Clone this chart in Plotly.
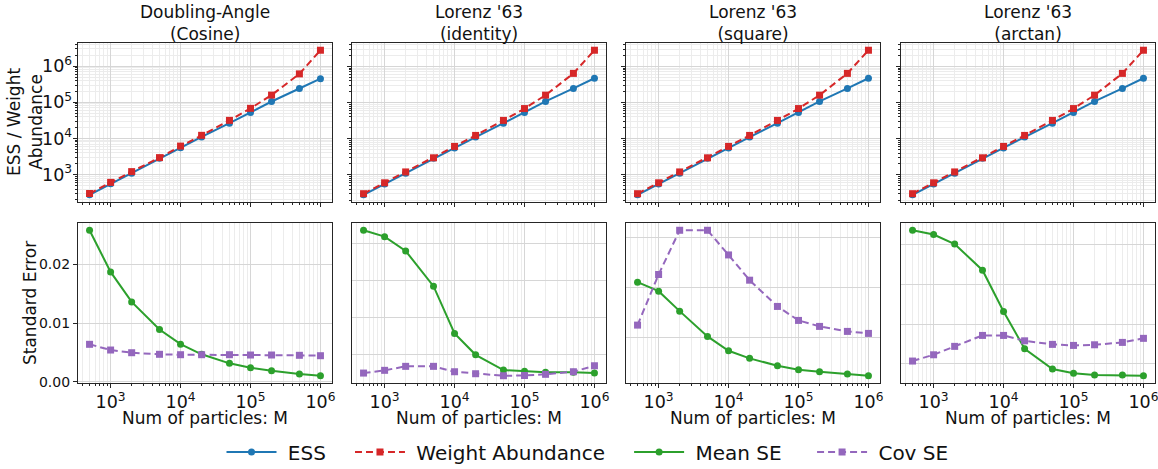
import numpy as np
import plotly.graph_objects as go

M = [500, 1000, 2000, 5000, 10000, 20000, 50000, 100000, 200000, 500000, 1000000]

titles = ["Doubling-Angle<br>(Cosine)", "Lorenz '63<br>(identity)", "Lorenz '63<br>(square)", "Lorenz '63<br>(arctan)"]

ess = [
    [277, 555, 1090, 2830, 5500, 11000, 26500, 52000, 105000, 240000, 450000],
    [280, 560, 1100, 2850, 5550, 11100, 26800, 53000, 107000, 245000, 470000],
    [280, 560, 1100, 2850, 5550, 11100, 26800, 53000, 107000, 245000, 470000],
    [280, 560, 1100, 2850, 5550, 11100, 26800, 53000, 107000, 245000, 470000],
]
wab = [
    [300, 610, 1210, 2950, 6150, 12200, 31600, 68000, 158000, 610000, 2750000],
    [300, 600, 1200, 2950, 6100, 12300, 32000, 68000, 160000, 640000, 2800000],
    [300, 600, 1200, 2950, 6100, 12300, 32000, 68000, 160000, 640000, 2800000],
    [300, 600, 1200, 2950, 6100, 12300, 32000, 68000, 160000, 640000, 2800000],
]
mean_se = [
    [0.0258, 0.0187, 0.0136, 0.0089, 0.0064, 0.00467, 0.00313, 0.00239, 0.00187, 0.00131, 0.00102],
    [0.02176, 0.0209, 0.01896, 0.01419, 0.0078, 0.0049, 0.00284, 0.00266, 0.00253, 0.00253, 0.00243],
    [0.0105, 0.0096, 0.0076, 0.00507, 0.00363, 0.00287, 0.00213, 0.00173, 0.00153, 0.0013, 0.00113],
    [0.02182, 0.02128, 0.02009, 0.01679, 0.01159, 0.00689, 0.00433, 0.00379, 0.00358, 0.00358, 0.00349],
]
cov_se = [
    [0.00637, 0.0054, 0.00494, 0.00467, 0.0046, 0.0046, 0.0046, 0.00455, 0.00455, 0.0045, 0.00443],
    [0.00243, 0.0028, 0.00334, 0.00334, 0.00261, 0.00234, 0.00207, 0.0021, 0.00226, 0.00261, 0.00342],
    [0.0062, 0.01127, 0.0157, 0.0157, 0.01323, 0.0107, 0.00807, 0.00667, 0.00607, 0.00557, 0.00537],
    [0.00534, 0.00613, 0.00719, 0.00857, 0.00857, 0.00789, 0.00744, 0.00731, 0.00739, 0.00769, 0.0082],
]
se_dtick = [0.01, 0.005, 0.005, 0.005]
legend_names = ["ESS", "Weight Abundance", "Mean SE", "Cov SE"]

C_BLUE, C_RED, C_GREEN, C_PURPLE = "#1f77b4", "#d62728", "#2ca02c", "#9467bd"
FONT = "DejaVu Sans"
W, H = 1158, 469

fig = go.Figure()

xcols = [(78, 332), (352, 606), (626, 880), (901, 1155)]
top_px = (43, 202)
bot_px = (223, 383)

def ydom(p):
    return [1 - p[1] / H, 1 - p[0] / H]

lx = np.log10(M)
xspan = lx.max() - lx.min()
xrange_ = [lx.min() - 0.05 * xspan, lx.max() + 0.05 * xspan]

grid_major = "#d6d6d6"
grid_minor = "#ececec"
frame = "#262626"
NB = "\u00a0"

def lname(s, trail=3):
    return NB + s + NB * trail

trails = [3, 3, 4, 3]

for i in range(4):
    xa_top = i * 2 + 1
    xa_bot = i * 2 + 2
    xt = "x" if xa_top == 1 else f"x{xa_top}"
    yt = "y" if xa_top == 1 else f"y{xa_top}"
    xb = f"x{xa_bot}"
    yb = f"y{xa_bot}"
    first = i == 0

    fig.add_trace(go.Scatter(x=M, y=ess[i], mode="lines+markers", name=lname(legend_names[0], trails[0]),
                             line=dict(color=C_BLUE, width=2), marker=dict(symbol="circle", size=7),
                             xaxis=xt, yaxis=yt, showlegend=first, legendgroup="ess"))
    fig.add_trace(go.Scatter(x=M, y=wab[i], mode="lines+markers", name=lname(legend_names[1], trails[1]),
                             line=dict(color=C_RED, width=2, dash="7px,4px"), marker=dict(symbol="square", size=7),
                             xaxis=xt, yaxis=yt, showlegend=first, legendgroup="wab"))
    fig.add_trace(go.Scatter(x=M, y=mean_se[i], mode="lines+markers", name=lname(legend_names[2], trails[2]),
                             line=dict(color=C_GREEN, width=2), marker=dict(symbol="circle", size=7),
                             xaxis=xb, yaxis=yb, showlegend=first, legendgroup="mse"))
    fig.add_trace(go.Scatter(x=M, y=cov_se[i], mode="lines+markers", name=lname(legend_names[3], trails[3]),
                             line=dict(color=C_PURPLE, width=2, dash="7px,4px"), marker=dict(symbol="square", size=7),
                             xaxis=xb, yaxis=yb, showlegend=first, legendgroup="cse"))

    dom = [xcols[i][0] / W, xcols[i][1] / W]
    common_x = dict(type="log", range=xrange_, dtick=1, exponentformat="power", showexponent="all",
                    showline=True, mirror=True, linecolor=frame, linewidth=1.2,
                    ticks="outside", ticklen=4, tickwidth=1, tickcolor=frame,
                    showgrid=True, gridcolor=grid_major, gridwidth=1, zeroline=False,
                    minor=dict(ticks="outside", ticklen=2, tickcolor=frame, dtick="D1",
                               showgrid=True, gridcolor=grid_minor, gridwidth=1),
                    ticklabeloverflow="allow",
                    tickfont=dict(family=FONT, size=14, color="#111"), domain=dom)

    # top
    ally = np.log10(np.concatenate([ess[i], wab[i]]))
    yspan = ally.max() - ally.min()
    yr = [ally.min() - 0.05 * yspan, ally.max() + 0.05 * yspan]
    fig.layout[f"xaxis{'' if xa_top == 1 else xa_top}"] = dict(common_x, anchor=yt, showticklabels=False)
    fig.layout[f"yaxis{'' if xa_top == 1 else xa_top}"] = dict(
        type="log", range=yr, dtick=1, exponentformat="power", showexponent="all",
        showline=True, mirror=True, linecolor=frame, linewidth=1.2,
        ticks="outside", ticklen=4, tickwidth=1, tickcolor=frame,
        showgrid=True, gridcolor=grid_major, gridwidth=1, zeroline=False,
        minor=dict(ticks="outside", ticklen=2, tickcolor=frame, dtick="D1",
                   showgrid=True, gridcolor=grid_minor, gridwidth=1),
        showticklabels=first, tickfont=dict(family=FONT, size=14, color="#111"),
        ticklabelstandoff=-2, ticklabeloverflow="allow",
        domain=ydom(top_px), anchor=xt)

    # bottom
    allb = np.concatenate([mean_se[i], cov_se[i]])
    bspan = allb.max() - allb.min()
    br = [allb.min() - 0.05 * bspan, allb.max() + 0.05 * bspan]
    fig.layout[f"xaxis{xa_bot}"] = dict(common_x, anchor=yb, showticklabels=True)
    fig.layout[f"yaxis{xa_bot}"] = dict(
        range=br, tick0=0, dtick=se_dtick[i], tickformat=".2f",
        showline=True, mirror=True, linecolor=frame, linewidth=1.2,
        ticks="outside" if first else "", ticklen=4, tickwidth=1, tickcolor=frame,
        showgrid=True, gridcolor=grid_major, gridwidth=1, zeroline=False,
        showticklabels=first, tickfont=dict(family=FONT, size=14, color="#111"),
        ticklabeloverflow="allow",
        domain=ydom(bot_px), anchor=xb)

    cx = (xcols[i][0] + xcols[i][1]) / 2 / W
    fig.add_annotation(text=titles[i], x=cx, y=1 - 23 / H, xref="paper", yref="paper",
                       xanchor="center", yanchor="middle", showarrow=False,
                       font=dict(family=FONT, size=17, color="#111"))
    fig.add_annotation(text="Num of particles: M", x=cx, y=1 - 418 / H, xref="paper", yref="paper",
                       xanchor="center", yanchor="middle", showarrow=False,
                       font=dict(family=FONT, size=17, color="#111"))

fig.add_annotation(text="ESS / Weight<br>Abundance", x=25 / W, y=1 - 122 / H, xref="paper", yref="paper",
                   xanchor="center", yanchor="middle", showarrow=False, textangle=-90,
                   font=dict(family=FONT, size=17, color="#111"))
fig.add_annotation(text="Standard Error", x=30 / W, y=1 - 303 / H, xref="paper", yref="paper",
                   xanchor="center", yanchor="middle", showarrow=False, textangle=-90,
                   font=dict(family=FONT, size=17, color="#111"))

fig.update_layout(
    width=W, height=H, margin=dict(l=0, r=0, t=0, b=0, autoexpand=False),
    paper_bgcolor="white", plot_bgcolor="white",
    showlegend=True,
    legend=dict(orientation="h", x=597 / W, xanchor="center", y=1 - 452 / H, yanchor="middle",
                font=dict(family=FONT, size=20, color="#111"), bgcolor="rgba(0,0,0,0)",
                itemwidth=50, traceorder="normal"),
)

fig.write_html("out.html")
